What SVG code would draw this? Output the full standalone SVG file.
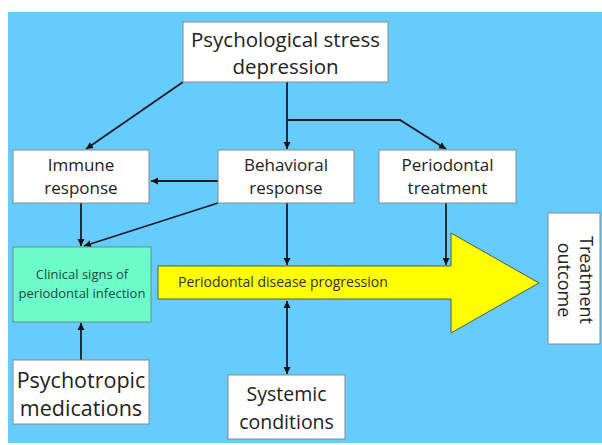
<svg xmlns="http://www.w3.org/2000/svg" width="602" height="445" viewBox="0 0 602 445">
<defs>
<marker id="ah" markerWidth="8" markerHeight="8" refX="7" refY="4" orient="auto" markerUnits="userSpaceOnUse">
<path d="M0,0.5 L7,4 L0,7.5 Z" fill="#111"/>
</marker>
<marker id="ahs" markerWidth="8" markerHeight="8" refX="1" refY="4" orient="auto" markerUnits="userSpaceOnUse">
<path d="M8,0.5 L1,4 L8,7.5 Z" fill="#111"/>
</marker>
<style>
.box{fill:#fff;stroke:#8a8a8a;stroke-width:1}
.t{font-family:"Open Sans",Lato,"Liberation Sans",sans-serif;fill:#222;text-anchor:middle}
.c{fill:none;stroke:#1a1a2a;stroke-width:1.8}
</style>
</defs>
<rect x="0" y="0" width="602" height="445" fill="#fff"/>
<rect x="8" y="12" width="594" height="431" fill="#66CBFD"/>
<g id="connectors">
<line class="c" x1="183" y1="82" x2="86" y2="149" marker-end="url(#ah)"/>
<line class="c" x1="287" y1="82" x2="287" y2="149" marker-end="url(#ah)"/>
<polyline class="c" points="287,120 400,120 446,149" marker-end="url(#ah)"/>
<line class="c" x1="218" y1="181" x2="151" y2="181" marker-end="url(#ah)"/>
<line class="c" x1="81" y1="203" x2="81" y2="246" marker-end="url(#ah)"/>
<line class="c" x1="218" y1="203" x2="84" y2="246" marker-end="url(#ah)"/>
<line class="c" x1="287" y1="203" x2="287" y2="265" marker-end="url(#ah)"/>
<line class="c" x1="446" y1="203" x2="446" y2="265" marker-end="url(#ah)"/>
<line class="c" x1="287" y1="301" x2="287" y2="374" marker-start="url(#ahs)" marker-end="url(#ah)"/>
<line class="c" x1="81" y1="360" x2="81" y2="323" marker-end="url(#ah)"/>
</g>
<g id="stress">
<rect class="box" x="183" y="22" width="205" height="60"/>
<text class="t" x="285.5" y="47" font-size="20.5">Psychological stress</text>
<text class="t" x="285.5" y="74" font-size="20.5">depression</text>
</g>
<g id="immune">
<rect class="box" x="13" y="150" width="136" height="53"/>
<text class="t" x="81" y="171" font-size="17">Immune</text>
<text class="t" x="81" y="194" font-size="17">response</text>
</g>
<g id="behavioral">
<rect class="box" x="218" y="150" width="136" height="53"/>
<text class="t" x="286" y="171" font-size="17">Behavioral</text>
<text class="t" x="286" y="194" font-size="17">response</text>
</g>
<g id="treatment">
<rect class="box" x="379" y="150" width="137" height="53"/>
<text class="t" x="447.5" y="171" font-size="17">Periodontal</text>
<text class="t" x="447.5" y="194" font-size="17">treatment</text>
</g>
<g id="clinical">
<rect x="13" y="247" width="138" height="75" fill="#6DFDCB" stroke="#6a8f80" stroke-width="1"/>
<text class="t" x="82" y="279" font-size="13" style="fill:#1d4a3c">Clinical signs of</text>
<text class="t" x="82" y="298" font-size="13" style="fill:#1d4a3c">periodontal infection</text>
</g>
<g id="progression">
<polygon points="158,266 451,266 451,233 539,283 451,333 451,299 158,299" fill="#FFFF00" stroke="#5a5a3a" stroke-width="1"/>
<text class="t" x="178" y="287" font-size="14" style="text-anchor:start;fill:#333">Periodontal disease progression</text>
</g>
<g id="outcome">
<rect class="box" x="548" y="213" width="52" height="131"/>
<text class="t" font-size="18" transform="translate(580,280) rotate(90)">Treatment</text>
<text class="t" font-size="18" transform="translate(558,280) rotate(90)">outcome</text>
</g>
<g id="psychotropic">
<rect class="box" x="13" y="360" width="136" height="64"/>
<text class="t" x="81" y="388" font-size="21.5">Psychotropic</text>
<text class="t" x="81" y="416" font-size="21.5">medications</text>
</g>
<g id="systemic">
<rect class="box" x="228" y="375" width="117" height="64"/>
<text class="t" x="286.5" y="401" font-size="19.5">Systemic</text>
<text class="t" x="286.5" y="429" font-size="19.5">conditions</text>
</g>
</svg>
